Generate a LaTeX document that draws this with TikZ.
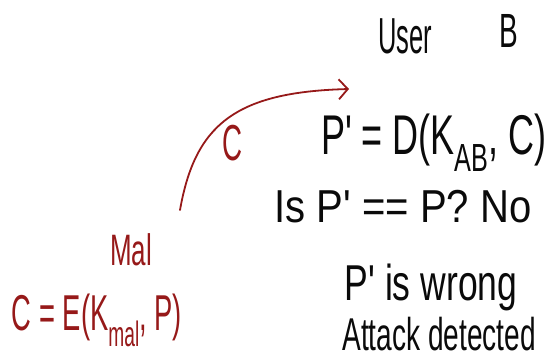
\documentclass[tikz,border=0pt]{standalone}
\usepackage{graphicx}
\usepackage{fontspec}
\setmainfont{Liberation Sans}
\usetikzlibrary{arrows.meta}
\definecolor{inkred}{RGB}{150,25,25}
\definecolor{inkblack}{RGB}{10,10,10}
\newcommand{\hwsz}[4]{\fontsize{#1}{#1}\selectfont\scalebox{#2}[#3]{#4}}
\newcommand{\pr}{\textquotesingle}
\begin{document}
\begin{tikzpicture}[x=1pt,y=-1pt,
  hw/.style={inner sep=0pt, anchor=base, text=inkblack},
  hwred/.style={inner sep=0pt, anchor=base, text=inkred},
  msg/.style={draw=inkred, line width=1.8pt, line cap=round,
    -{Straight Barb[length=9pt,width=20pt,line width=1.8pt]}}]
\useasboundingbox (0,0) rectangle (548,360);
% user B side
\node[hw] (user) at (405,53) {\hwsz{44}{0.58}{1.15}{User}};
\node[hw] (userb) at (509,47) {\hwsz{40}{0.7}{1.2}{B}};
\node[hw] (dec) at (434,154) {\hwsz{50}{0.72}{1.12}{P\pr{} = D(K\textsubscript{AB}, C)}};
\node[hw] (check) at (403,222) {\hwsz{44}{0.91}{1.05}{Is P\pr{} == P? No}};
\node[hw] (wrong) at (431,300) {\hwsz{48}{0.74}{1.05}{P\pr{} is wrong}};
\node[hw] (attack) at (439,350) {\hwsz{46}{0.61}{1}{Attack detected}};
% Mal side
\node[hwred] (mal) at (131,265) {\hwsz{44}{0.59}{1}{Mal}};
\node[hwred] (enc) at (97,330) {\hwsz{48}{0.57}{1.05}{C = E(K\textsubscript{mal}, P)}};
\node[hwred] (clabel) at (233,160) {\hwsz{44}{0.63}{1.15}{C}};
% message arrow
\coordinate (cstart) at (180,210);
\coordinate (cend) at (349,89);
\draw[msg] (cstart) .. controls +(15,-85) and +(-114,3) .. (cend);
\end{tikzpicture}
\end{document}
